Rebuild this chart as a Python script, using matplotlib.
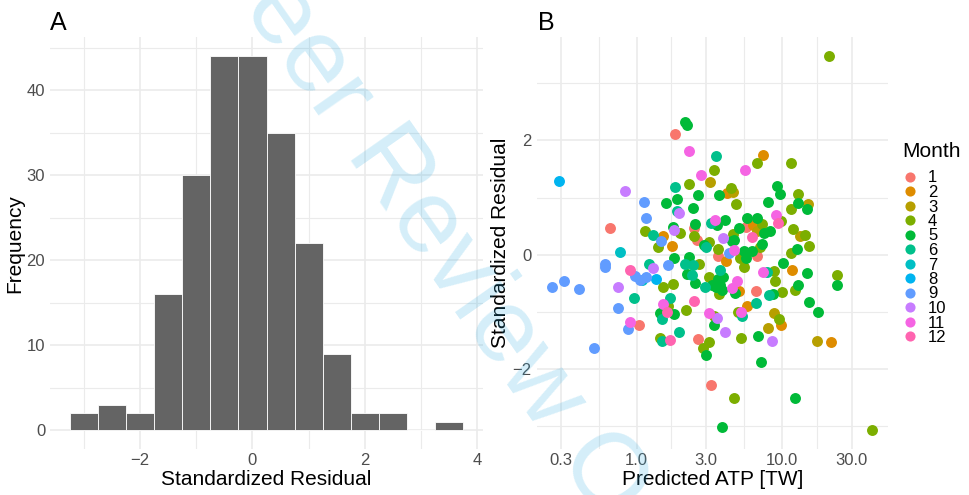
import numpy as np
import matplotlib
matplotlib.use("Agg")
import matplotlib.pyplot as plt
from matplotlib.ticker import FixedLocator, FixedFormatter, NullFormatter
from matplotlib.lines import Line2D

plt.rcParams['font.family'] = ['Liberation Sans', 'DejaVu Sans']

# ---------------- data ----------------
# Panel A: histogram of standardized residuals (bin width 0.5)
bin_centers = [-3.0, -2.5, -2.0, -1.5, -1.0, -0.5, 0.0, 0.5, 1.0, 1.5, 2.0, 2.5, 3.0, 3.5]
bin_counts = [2, 3, 2, 16, 30, 44, 44, 35, 22, 9, 2, 2, 0, 1]
bin_width = 0.5

# Panel B: predicted ATP [TW] vs standardized residual, by month
months = ["1", "2", "3", "4", "5", "6", "7", "8", "9", "10", "11", "12"]
month_colors = ["#F8766D", "#DE8C00", "#B79F00", "#7CAE00", "#00BA38", "#00C08B",
                "#00BFC4", "#00B4F0", "#619CFF", "#C77CFF", "#F564E3", "#FF64B0"]

atp_m1 = [0.656, 1.03, 1.82, 2.49, 2.61, 2.65, 3.22, 3.62, 5.63, 6.66, 6.59]
res_m1 = [0.47, -1.23, 2.12, 0.47, 0.26, -1.48, -2.28, -0.02, 0.48, -0.02, -0.63]
atp_m2 = [1.52, 1.74, 4.08, 4.19, 6.25, 7.37, 11.6, 5.01, 5.75, 9.79, 21.5]
res_m2 = [0.33, 0.15, -0.11, 1.08, 0.51, 1.75, -0.27, -0.63, -0.90, -1.23, -1.54]
atp_m3 = [3.19, 4.56, 6.66, 13.2, 15.0, 8.77, 7.93, 17.3]
res_m3 = [1.27, 1.10, 0.42, 0.33, 0.89, -1.03, -1.28, -1.52]
atp_m4 = [20.9, 41.5, 1.14, 1.41, 1.51, 1.44, 1.65, 1.77, 1.97, 2.29, 2.48, 2.69, 2.17,
          2.87, 3.12, 3.38, 3.14, 3.64, 3.15, 3.70, 3.40, 4.68, 4.44, 4.81, 4.61, 5.12,
          5.46, 4.99, 5.18, 6.74, 7.21, 7.03, 8.77, 8.95, 9.89, 9.53, 9.84, 11.4, 12.9,
          11.5, 11.9, 14.3, 15.3, 11.5, 12.2, 23.6]
res_m4 = [3.48, -3.08, 0.41, 0.14, -0.57, -1.46, -0.91, -0.52, 0.38, 1.24, 0.33, -0.16,
          -0.97, -1.63, -1.54, 1.49, 0.22, 0.10, -0.39, -0.69, -1.07, -2.52, 1.17, 0.89,
          0.36, -0.06, -0.21, -1.00, -1.46, 1.61, 0.53, 0.14, -0.29, -0.47, -0.65, -1.13,
          0.59, 1.61, 1.07, 0.79, 0.45, 0.35, 0.15, 0.03, -0.62, -0.35]
atp_m5 = [1.44, 1.59, 1.78, 1.80, 1.80, 1.90, 2.16, 2.20, 2.44, 2.65, 2.28, 2.20, 2.51,
          2.53, 2.99, 3.85, 12.3, 7.18, 3.41, 6.84, 8.59, 10.05, 14.7, 12.9, 15.3, 17.7,
          23.6, 4.73, 9.19, 9.64, 7.93, 12.9, 14.7, 12.7, 3.66, 4.04, 3.54, 4.49, 5.07,
          5.69, 6.74, 7.48, 8.23, 7.21, 6.22, 5.46, 5.63, 4.68, 2.92, 3.60, 3.27, 3.50,
          3.73, 3.94, 3.87]
res_m5 = [-1.03, 0.90, 0.49, -0.06, -1.04, 0.97, 2.33, 2.27, 0.82, 1.05, -0.04, -0.34,
          0.54, -0.49, -1.76, -3.02, -2.52, -1.88, -1.23, -1.42, -0.69, -0.15, -0.32,
          -0.53, -0.84, -1.01, -0.54, -0.67, 1.21, 1.07, 0.92, 0.90, 0.79, 0.09, 1.04,
          0.60, 0.51, 0.23, 0.46, 0.64, 0.64, 0.37, 0.42, 0.19, 0.07, 0.07, -0.06, 0.25,
          0.16, -0.43, -0.54, -0.57, -0.54, -0.40, -0.62]
atp_m6 = [0.96, 1.22, 1.30, 1.49, 1.50, 1.70, 1.83, 1.90, 1.96, 2.15, 2.41, 2.42, 3.52,
          3.24, 2.99, 3.73, 2.94, 5.26, 6.63, 8.06, 7.80]
res_m6 = [-0.77, -0.16, 0.35, -1.13, -1.52, -0.77, 1.18, 0.76, -1.35, -0.16, -0.35, -0.19,
          1.72, 0.55, 0.13, -0.27, -0.56, -1.07, -0.85, -0.71, -0.30]
atp_m7 = [0.773, 1.08]
res_m7 = [0.04, -0.45]
atp_m8 = [0.293, 1.36]
res_m8 = [1.29, -0.43]
atp_m9 = [0.264, 0.317, 0.402, 0.509, 0.61, 0.61, 0.748, 0.867, 0.97, 1.05, 1.16, 1.12,
          1.15, 1.46, 1.65, 4.33]
res_m9 = [-0.56, -0.47, -0.61, -1.63, -0.16, -0.22, -0.94, -1.31, -0.37, -0.45, -0.39,
          0.92, 0.64, 0.23, -0.18, 0.03]
atp_m10 = [0.832, 0.748, 1.29, 1.80, 1.94, 3.91, 3.56, 4.02, 8.45]
res_m10 = [1.12, -0.56, -0.23, 0.43, 0.73, 0.29, -1.11, -1.35, -1.52]
atp_m11 = [0.90, 2.30, 2.77, 3.47, 5.57, 9.00, 4.63, 4.86, 5.18, 7.41, 3.14, 1.52, 4.49]
res_m11 = [-1.19, 1.82, 1.39, 0.61, 1.49, 0.70, 0.08, -0.47, -1.01, -0.31, -1.03, -0.87,
           -0.59]
atp_m12 = [0.90, 1.61, 1.69, 2.48, 9.29, 6.16]
res_m12 = [-0.27, -1.01, -1.49, -0.81, 0.55, 0.30]

atp_by_month = [atp_m1, atp_m2, atp_m3, atp_m4, atp_m5, atp_m6,
                atp_m7, atp_m8, atp_m9, atp_m10, atp_m11, atp_m12]
res_by_month = [res_m1, res_m2, res_m3, res_m4, res_m5, res_m6,
                res_m7, res_m8, res_m9, res_m10, res_m11, res_m12]

histA_xticks = [-2, 0, 2, 4]
histA_xticklabels = ["\u22122", "0", "2", "4"]
histA_yticks = [0, 10, 20, 30, 40]
scatB_xticks = [0.3, 1.0, 3.0, 10.0, 30.0]
scatB_xticklabels = ["0.3", "1.0", "3.0", "10.0", "30.0"]
scatB_yticks = [-2, 0, 2]
scatB_yticklabels = ["\u22122", "0", "2"]

# ---------------- figure ----------------
W, H = 970, 495
fig = plt.figure(figsize=(W / 100, H / 100), dpi=100)
fig.patch.set_facecolor("white")


def px_axes(l, t, r, b):
    return fig.add_axes([l / W, 1 - b / H, (r - l) / W, (b - t) / H])


GRID = "#EBEBEB"
TICKC = "#4D4D4D"


def style(ax):
    for s in ax.spines.values():
        s.set_visible(False)
    ax.set_axisbelow(True)
    ax.grid(True, which="major", color=GRID, lw=1.2)
    ax.grid(True, which="minor", color=GRID, lw=0.8)
    ax.tick_params(which="both", length=0, labelsize=12, labelcolor=TICKC)
    ax.tick_params(axis="x", pad=3)
    ax.tick_params(axis="y", pad=3.5)


top_px, bot_px = 37.3, 449.0

# ---- Panel A ----
axA = px_axes(50, top_px, 483, bot_px)
style(axA)
axA.bar(bin_centers, bin_counts, width=bin_width, color="#646464",
        edgecolor="white", linewidth=0.6, zorder=2)
lo = bin_centers[0] - bin_width / 2
hi = bin_centers[-1] + bin_width / 2
axA.set_xlim(lo - 0.05 * (hi - lo), hi + 0.05 * (hi - lo))
ymax = max(bin_counts)
axA.set_ylim(-0.05 * ymax, 1.05 * ymax)
axA.xaxis.set_major_locator(FixedLocator(histA_xticks))
axA.xaxis.set_major_formatter(FixedFormatter(histA_xticklabels))
axA.xaxis.set_minor_locator(FixedLocator([-3, -1, 1, 3]))
axA.yaxis.set_major_locator(FixedLocator(histA_yticks))
axA.yaxis.set_minor_locator(FixedLocator([5, 15, 25, 35, 45]))
axA.set_xlabel("Standardized Residual", fontsize=15, color="black", va="baseline")
axA.xaxis.set_label_coords(0.5, -(485 - bot_px) / (bot_px - top_px))
axA.set_ylabel("Frequency", fontsize=15, color="black")
axA.yaxis.label.set_va("center")
axA.yaxis.set_label_coords((15 - 50) / 433, 0.5)

# ---- Panel B ----
axB = px_axes(536.5, top_px, 888.3, bot_px)
style(axB)
axB.set_xscale("log")
for m, col, xs, ys in zip(months, month_colors, atp_by_month, res_by_month):
    axB.scatter(xs, ys, s=62, color=col, linewidths=0, zorder=3, label=m)
all_x = np.concatenate([np.asarray(a) for a in atp_by_month])
all_y = np.concatenate([np.asarray(a) for a in res_by_month])
lx0, lx1 = np.log10(all_x.min()), np.log10(all_x.max())
axB.set_xlim(10 ** (lx0 - 0.05 * (lx1 - lx0)), 10 ** (lx1 + 0.05 * (lx1 - lx0)))
y0, y1 = all_y.min(), all_y.max()
axB.set_ylim(y0 - 0.05 * (y1 - y0), y1 + 0.05 * (y1 - y0))
axB.xaxis.set_major_locator(FixedLocator(scatB_xticks))
axB.xaxis.set_major_formatter(FixedFormatter(scatB_xticklabels))
lb = np.log10(scatB_xticks)
axB.xaxis.set_minor_locator(FixedLocator(10 ** ((lb[:-1] + lb[1:]) / 2)))
axB.xaxis.set_minor_formatter(NullFormatter())
axB.yaxis.set_major_locator(FixedLocator(scatB_yticks))
axB.yaxis.set_major_formatter(FixedFormatter(scatB_yticklabels))
axB.yaxis.set_minor_locator(FixedLocator([-3, -1, 1, 3]))
axB.set_xlabel("Predicted ATP [TW]", fontsize=15, color="black", va="baseline")
axB.xaxis.set_label_coords(0.5, -(485 - bot_px) / (bot_px - top_px))
axB.set_ylabel("Standardized Residual", fontsize=15, color="black")
axB.yaxis.label.set_va("center")
axB.yaxis.set_label_coords((500 - 536.5) / 351.8, 0.5)

# legend
handles = [Line2D([], [], marker="o", linestyle="none", markersize=7.3,
                  markerfacecolor=c, markeredgewidth=0) for c in month_colors]
fig.legend(handles, months, loc="upper left", bbox_to_anchor=(902.7 / W, 1 - 170.5 / H),
           bbox_transform=fig.transFigure, frameon=False, fontsize=12,
           borderpad=0, borderaxespad=0, handlelength=0.84, handletextpad=0.68,
           labelspacing=-0.03)
fig.text(902.7 / W, 1 - 157 / H, "Month", fontsize=15, ha="left", va="baseline")

# panel tags
fig.text(50 / W, 1 - 30 / H, "A", fontsize=18, ha="left", va="baseline")
fig.text(537.5 / W, 1 - 30 / H, "B", fontsize=18, ha="left", va="baseline")

# watermark
fig.text(410 / W, 1 - 200 / H, "For Peer Review Only", fontsize=75, color="#29ABE2",
         alpha=0.2, rotation=-55, rotation_mode="anchor", ha="center", va="center",
         zorder=10)

fig.savefig("out.png", dpi=100)
